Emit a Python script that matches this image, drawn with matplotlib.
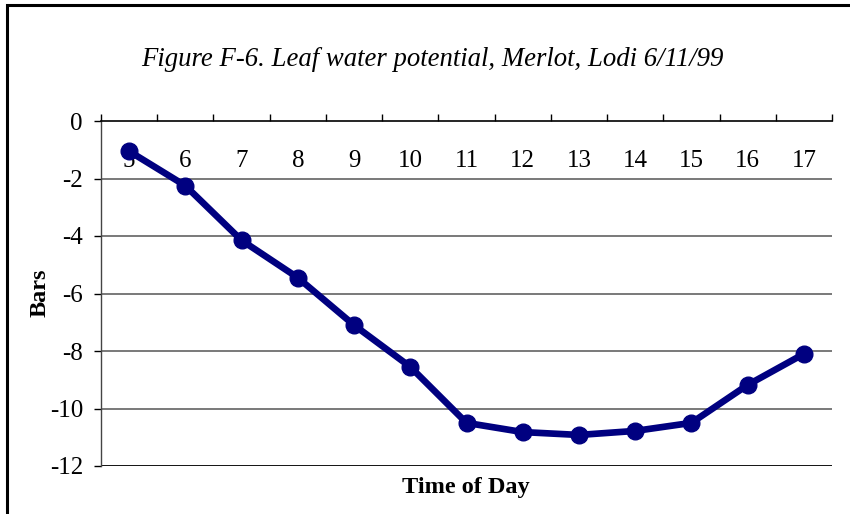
import matplotlib
matplotlib.use("Agg")
import matplotlib.pyplot as plt
from matplotlib.patches import Rectangle

hours = ["5", "6", "7", "8", "9", "10", "11", "12", "13", "14", "15", "16", "17"]
bars = [-1.05, -2.25, -4.15, -5.45, -7.1, -8.55, -10.5, -10.82, -10.92, -10.78, -10.5, -9.18, -8.1]
yticks = [0, -2, -4, -6, -8, -10, -12]

W, H = 850, 514
fig = plt.figure(figsize=(W / 100, H / 100), dpi=100)
plt.rcParams['font.family'] = ['Liberation Serif', 'DejaVu Serif']

# figure border (cut off at right and bottom)
fig.patches.append(Rectangle((7 / W, -0.1), 1.2, 1 - 5 / H + 0.1, transform=fig.transFigure,
                             fill=False, edgecolor='black', linewidth=2.2))

left, right, top, bottom = 101, 832, 121, 466
ax = fig.add_axes([left / W, 1 - bottom / H, (right - left) / W, (bottom - top) / H])

n = len(hours)
xs = [i + 0.5 for i in range(n)]
ax.set_xlim(0, n)
ax.set_ylim(-12, 0)

for v in yticks[1:-1]:
    ax.axhline(v, color='#555555', linewidth=1.1, zorder=1)
ax.axhline(-12, color='black', linewidth=1.3, zorder=1)

ax.plot(xs, bars, color='#000080', linewidth=4.8, marker='o', markersize=12,
        solid_joinstyle='round', zorder=3, clip_on=False)

for s in ['right', 'bottom']:
    ax.spines[s].set_visible(False)
ax.spines['top'].set_linewidth(1.2)
ax.spines['left'].set_linewidth(1.0)
ax.spines['left'].set_color('#444444')

ax.set_yticks(yticks)
ax.set_yticklabels([str(v) for v in yticks], fontsize=18)
ax.tick_params(axis='y', direction='out', length=5, width=1, pad=8)

ax.xaxis.tick_top()
ax.set_xticks(range(n + 1))
ax.set_xticklabels([])
ax.tick_params(axis='x', direction='out', length=5, width=1)
for x, lab in zip(xs, hours):
    ax.text(x, -1.4, lab, ha='center', va='center', fontsize=18, zorder=2)

fig.text(432 / W, 1 - 60 / H, "Figure F-6. Leaf water potential, Merlot, Lodi 6/11/99",
         ha='center', va='center', fontsize=19.3, style='italic')
fig.text(40 / W, 1 - 293 / H, "Bars", ha='center', va='center', fontsize=17.5,
         fontweight='bold', rotation=90)
fig.text(466 / W, 1 - 488 / H, "Time of Day", ha='center', va='center', fontsize=17.5,
         fontweight='bold')

fig.savefig("out.png", dpi=100)
